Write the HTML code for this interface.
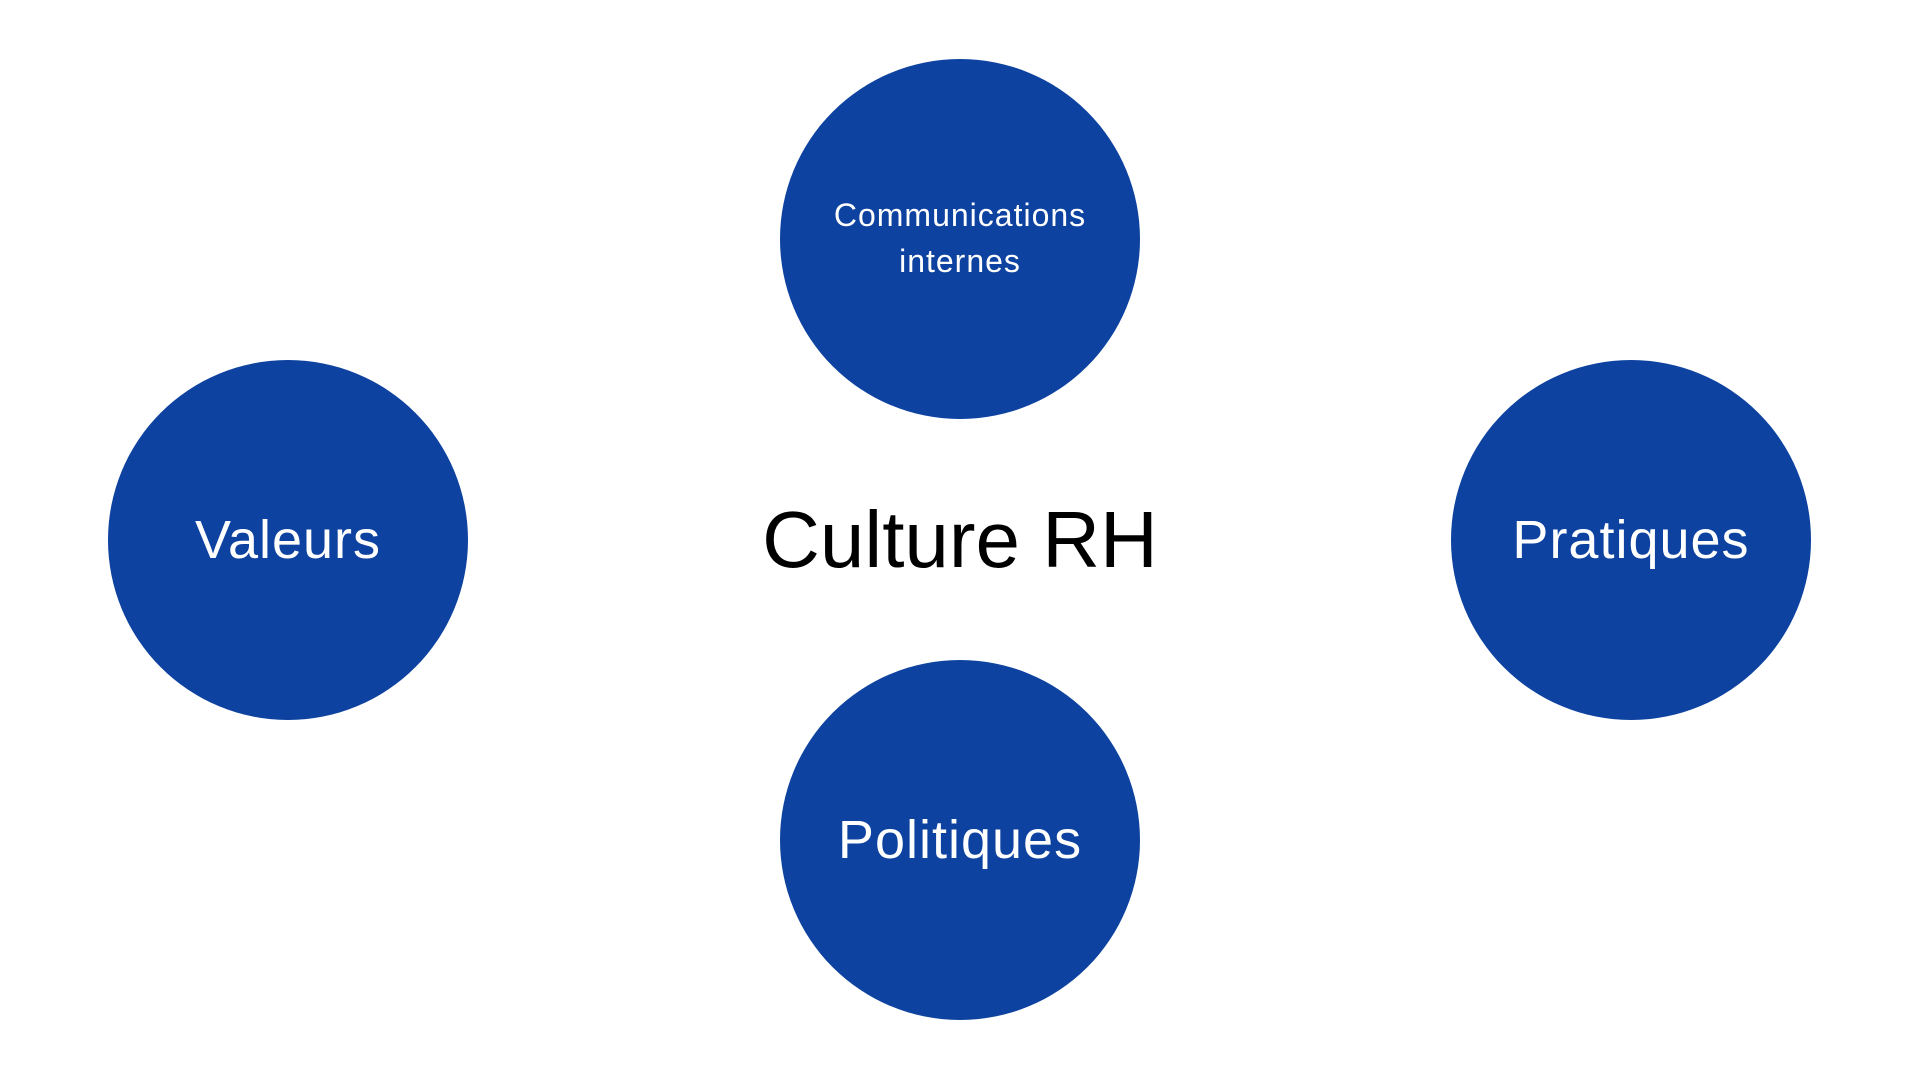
<!DOCTYPE html>
<html><head><meta charset="utf-8"><style>
body{margin:0;width:1920px;height:1080px;background:#fff;position:relative;overflow:hidden;font-family:"Liberation Sans",sans-serif}
.c{position:absolute;width:360px;height:360px;border-radius:50%;background:#0d42a0;color:#fff;display:flex;align-items:center;justify-content:center;text-align:center;font-size:54px;letter-spacing:1px}
.t{position:absolute;left:560px;width:800px;top:490px;text-align:center;font-size:80px;color:#000;line-height:100px;letter-spacing:0}
</style></head><body>
<div class="c" style="left:780px;top:59px"><div style="font-size:32px;line-height:46px;margin-top:-2px">Communications<br>internes</div></div>
<div class="c" style="left:108px;top:360px">Valeurs</div>
<div class="c" style="left:1451px;top:360px">Pratiques</div>
<div class="c" style="left:780px;top:660px">Politiques</div>
<div class="t">Culture RH</div>
</body></html>
